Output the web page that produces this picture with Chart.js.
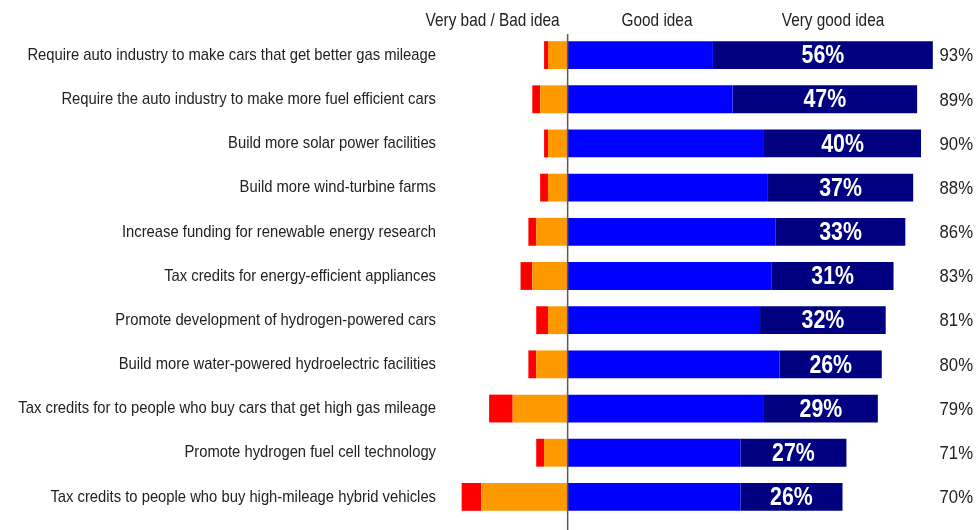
<!DOCTYPE html>
<html>
<head>
<meta charset="utf-8">
<script src="https://cdn.jsdelivr.net/npm/chart.js@4.4.1/dist/chart.umd.min.js"></script>
<style>
  html, body { margin: 0; padding: 0; background: #fff; }
  #wrap { width: 976px; height: 530px; position: relative; }
</style>
</head>
<body>
<div id="wrap"><canvas id="grafico"></canvas></div>
<script>
const categorias = [
  "Require auto industry to make cars that get better gas mileage",
  "Require the auto industry to make more fuel efficient cars",
  "Build more solar power facilities",
  "Build more wind-turbine farms",
  "Increase funding for renewable energy research",
  "Tax credits for energy-efficient appliances",
  "Promote development of hydrogen-powered cars",
  "Build more water-powered hydroelectric facilities",
  "Tax credits for to people who buy cars that get high gas mileage",
  "Promote hydrogen fuel cell technology",
  "Tax credits to people who buy high-mileage hybrid vehicles"
];
const muitoRuim = [1, 2, 1, 2, 2, 3, 3, 2, 6, 2, 5];
const ruim = [5, 7, 5, 5, 8, 9, 5, 8, 14, 6, 22];
const boa = [37, 42, 50, 51, 53, 52, 49, 54, 50, 44, 44];
const muitoBoa = [56, 47, 40, 37, 33, 31, 32, 26, 29, 27, 26];
const totais = [93, 89, 90, 88, 86, 83, 81, 80, 79, 71, 70];
const cabecalhos = ["Very bad / Bad idea", "Good idea", "Very good idea"];

const fonte = '"Liberation Sans", Arial, sans-serif';

// texto estreito (imita Arial Narrow)
function textoEstreito(ctx, texto, x, y, alinhamento, font, escala) {
  ctx.save();
  ctx.translate(x, y);
  ctx.scale(escala, 1);
  ctx.font = font;
  ctx.textAlign = alinhamento;
  ctx.textBaseline = "middle";
  ctx.fillText(texto, 0, 0);
  ctx.restore();
}

const rotulos = {
  id: "rotulos",
  afterDatasetsDraw(chart) {
    const ctx = chart.ctx;
    const x = chart.scales.x;
    const y = chart.scales.y;
    const zero = x.getPixelForValue(0);

    // linha do eixo
    ctx.save();
    ctx.strokeStyle = "#5a5a5a";
    ctx.lineWidth = 1.5;
    ctx.beginPath();
    ctx.moveTo(zero, 34);
    ctx.lineTo(zero, chart.height);
    ctx.stroke();

    // cabecalhos
    ctx.fillStyle = "#222";
    textoEstreito(ctx, cabecalhos[0], zero - 8, 21, "right", "18.5px " + fonte, 0.83);
    textoEstreito(ctx, cabecalhos[1], 657, 21, "center", "18.5px " + fonte, 0.83);
    textoEstreito(ctx, cabecalhos[2], 833, 21, "center", "18.5px " + fonte, 0.83);

    // categorias
    categorias.forEach((c, i) => {
      textoEstreito(ctx, c, 436, y.getPixelForValue(i), "right", "17px " + fonte, 0.87);
    });

    // valores dentro das barras "muito boa"
    const metaBoa = chart.getDatasetMeta(3);
    ctx.fillStyle = "#fff";
    metaBoa.data.forEach((bar, i) => {
      const cx = (bar.x + bar.base) / 2;
      textoEstreito(ctx, muitoBoa[i] + "%", cx, bar.y + 1, "center", "bold 26px " + fonte, 0.82);
    });

    // totais a direita
    ctx.fillStyle = "#222";
    metaBoa.data.forEach((bar, i) => {
      textoEstreito(ctx, totais[i] + "%", 973, bar.y + 1, "right", "19px " + fonte, 0.88);
    });
    ctx.restore();
  }
};

new Chart(document.getElementById("grafico"), {
  type: "bar",
  data: {
    labels: categorias,
    datasets: [
      { label: "Bad idea", data: ruim.map(v => -v), backgroundColor: "#ff9900" },
      { label: "Very bad idea", data: muitoRuim.map(v => -v), backgroundColor: "#ff0000" },
      { label: "Good idea", data: boa, backgroundColor: "#0000ff" },
      { label: "Very good idea", data: muitoBoa, backgroundColor: "#000080" }
    ]
  },
  options: {
    indexAxis: "y",
    responsive: true,
    maintainAspectRatio: false,
    animation: false,
    layout: { padding: { top: 33, bottom: 11, left: 0, right: 0 } },
    datasets: {
      bar: { categoryPercentage: 1, barPercentage: 0.63, borderWidth: 0 }
    },
    plugins: {
      legend: { display: false },
      tooltip: { enabled: false }
    },
    scales: {
      x: {
        stacked: true,
        display: false,
        min: -32,
        max: 104
      },
      y: {
        stacked: true,
        grid: { display: false, drawTicks: false },
        border: { display: false },
        ticks: { display: false },
        afterFit(scale) { scale.width = 442; }
      }
    }
  },
  plugins: [rotulos]
});
</script>
</body>
</html>
